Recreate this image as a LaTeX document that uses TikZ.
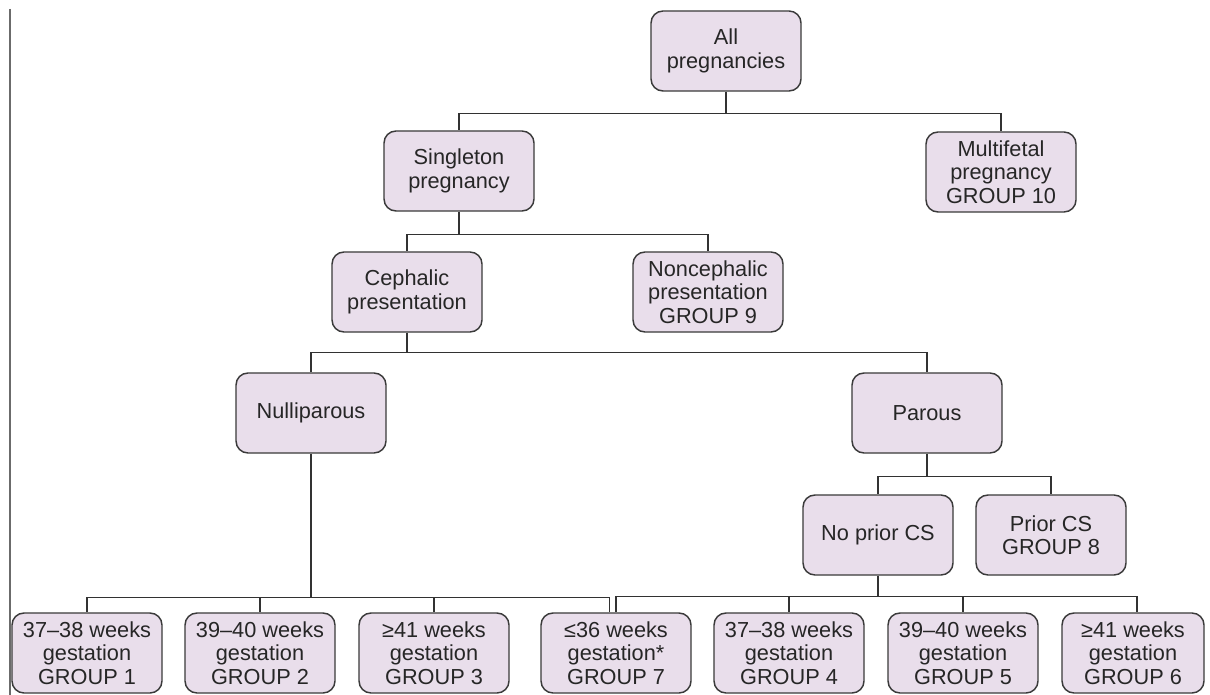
\documentclass[tikz,border=0pt]{standalone}
\usepackage{fontspec}
\setmainfont{Liberation Sans}
\usepackage{tikz}
\usetikzlibrary{calc}
\definecolor{boxfill}{RGB}{233,222,235}
\definecolor{boxdraw}{RGB}{58,58,58}
\definecolor{linkcol}{RGB}{50,50,50}

\begin{document}
\begin{tikzpicture}[
    x=0.75pt, y=-0.75pt,
    font=\fontsize{16.3pt}{17.6pt}\selectfont,
    base/.style={draw=boxdraw, fill=boxfill, text=black!85, align=center, line width=1.1pt, inner sep=0pt, rounded corners=9pt},
    rbox/.style={base, rectangle, minimum width=112.5pt, minimum height=60pt},
    link/.style={draw=linkcol, line width=1.1pt}
  ]
    \useasboundingbox (0,0) rectangle (1210,695);
    \fill[white] (0,0) rectangle (1210,695);
    \draw[line width=1.5pt, black!58] (10,9) -- (10,695);
    \node[rbox] (all) at (726,51) {All\\pregnancies};
    \node[rbox] (single) at (459,171) {Singleton\\pregnancy};
    \node[rbox] (multi) at (1001,172) {Multifetal\\pregnancy\\GROUP 10};
    \node[rbox] (ceph) at (407,292) {Cephalic\\presentation};
    \node[rbox] (nonceph) at (708,292) {Noncephalic\\presentation\\GROUP 9};
    \node[rbox] (nulli) at (311,413) {Nulliparous};
    \node[rbox] (parous) at (927,413) {Parous};
    \node[rbox] (nocs) at (878,535) {No prior CS};
    \node[rbox] (priorcs) at (1051,535) {Prior CS\\GROUP 8};
    \node[rbox] (g1) at (87,653) {37--38 weeks\\gestation\\GROUP 1};
    \node[rbox] (g2) at (260,653) {39--40 weeks\\gestation\\GROUP 2};
    \node[rbox] (g3) at (434,653) {≥41 weeks\\gestation\\GROUP 3};
    \node[rbox] (g7) at (616,653) {≤36 weeks\\gestation*\\GROUP 7};
    \node[rbox] (g4) at (789,653) {37--38 weeks\\gestation\\GROUP 4};
    \node[rbox] (g5) at (963,653) {39--40 weeks\\gestation\\GROUP 5};
    \node[rbox, minimum width=106.5pt] (g6) at (1133,653) {≥41 weeks\\gestation\\GROUP 6};
    \draw[link] (all.south) -- ++(0,22) coordinate (aj);
    \draw[link] (aj) -| (single.north);
    \draw[link] (aj) -| (multi.north);
    \draw[link] (single.south) -- ++(0,23) coordinate (sj);
    \draw[link] (sj) -| (ceph.north);
    \draw[link] (sj) -| (nonceph.north);
    \draw[link] (ceph.south) -- ++(0,20) coordinate (cj);
    \draw[link] (cj) -| (nulli.north);
    \draw[link] (cj) -| (parous.north);
    \draw[link] (parous.south) -- ++(0,23) coordinate (pj);
    \draw[link] (pj) -| (nocs.north);
    \draw[link] (pj) -| (priorcs.north);
    \draw[link] (nulli.south) -- ++(0,144) coordinate (nj);
    \draw[link] (nj) -| (g1.north);
    \draw[link] (nj) -| (g2.north);
    \draw[link] (nj) -| (g3.north);
    \draw[link] (nj) -| ([xshift=-5pt]g7.north);
    \draw[link] (nocs.south) -- ++(0,21) coordinate (bj);
    \draw[link] (bj) -| (g7.north);
    \draw[link] (bj) -| (g4.north);
    \draw[link] (bj) -| (g5.north);
    \draw[link] (bj) -| ([xshift=3pt]g6.north);
  \end{tikzpicture}
\end{document}
